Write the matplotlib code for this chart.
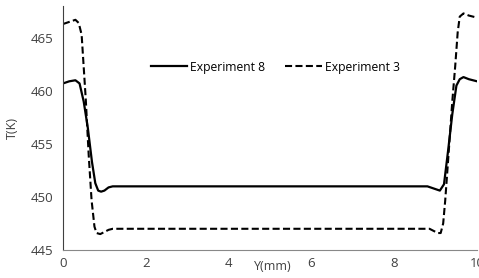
import matplotlib
matplotlib.use("Agg")
import matplotlib.pyplot as plt

# Experiment 8 (solid)
x_exp8 = [0, 0.15, 0.3, 0.4, 0.5, 0.6, 0.7, 0.78, 0.85, 0.92, 1.0, 1.1, 1.2,
          8.8, 8.95, 9.1, 9.2, 9.3, 9.4, 9.5, 9.58, 9.67, 9.8, 10]
t_exp8 = [460.7, 460.9, 461.0, 460.7, 459.0, 456.5, 453.3, 451.3, 450.6, 450.5, 450.6, 450.9, 451.0,
          451.0, 450.8, 450.6, 451.2, 454.4, 457.8, 460.5, 461.1, 461.3, 461.1, 460.9]

# Experiment 3 (dashed)
x_exp3 = [0, 0.15, 0.3, 0.38, 0.45, 0.55, 0.62, 0.69, 0.76, 0.81, 0.9, 1.0, 1.1, 1.2,
          8.85, 8.95, 9.05, 9.12, 9.18, 9.23, 9.3, 9.4, 9.47, 9.53, 9.58, 9.67, 9.8, 10]
t_exp3 = [466.3, 466.5, 466.7, 466.4, 465.3, 459.2, 454.0, 449.7, 447.2, 446.6, 446.5, 446.7, 446.9, 447.0,
          447.0, 446.8, 446.6, 446.6, 447.5, 449.7, 453.5, 459.0, 462.3, 465.5, 467.0, 467.3, 467.1, 466.9]

x_ticks = [0, 2, 4, 6, 8, 10]
y_ticks = [445, 450, 455, 460, 465]

plt.rcParams['font.family'] = ['Open Sans', 'DejaVu Sans']

fig = plt.figure(figsize=(4.79, 2.78), dpi=100)
ax = fig.add_axes([0.1315, 0.1007, 0.8646, 0.8777])

ax.plot(x_exp8, t_exp8, color="black", lw=1.6, label="Experiment 8")
ax.plot(x_exp3, t_exp3, color="black", lw=1.5, linestyle=(0, (3.4, 1.6)), label="Experiment 3")

ax.set_xlim(0, 10)
ax.set_ylim(445, 468)
ax.set_xticks(x_ticks)
ax.set_yticks(y_ticks)
ax.tick_params(length=0, colors="#404040", labelsize=9.5)
ax.tick_params(axis="x", pad=5)
ax.tick_params(axis="y", pad=7)

for s in ["top", "right"]:
    ax.spines[s].set_visible(False)
ax.spines["left"].set_color("#404040")
ax.spines["bottom"].set_color("#888888")

ax.set_ylabel("T(K)", color="#404040", fontsize=9, labelpad=8)
ax.set_xlabel("Y(mm)", color="#404040", fontsize=9)
ax.xaxis.set_label_coords(0.506, -0.04, transform=ax.transAxes)
ax.xaxis.label.set_va("top")

ax.legend(loc="center", bbox_to_anchor=(0.513, 0.75), ncol=2, frameon=False,
          handlelength=3.0, columnspacing=1.65, handletextpad=0.25, fontsize=8.7)

fig.savefig("out.png", dpi=100)
